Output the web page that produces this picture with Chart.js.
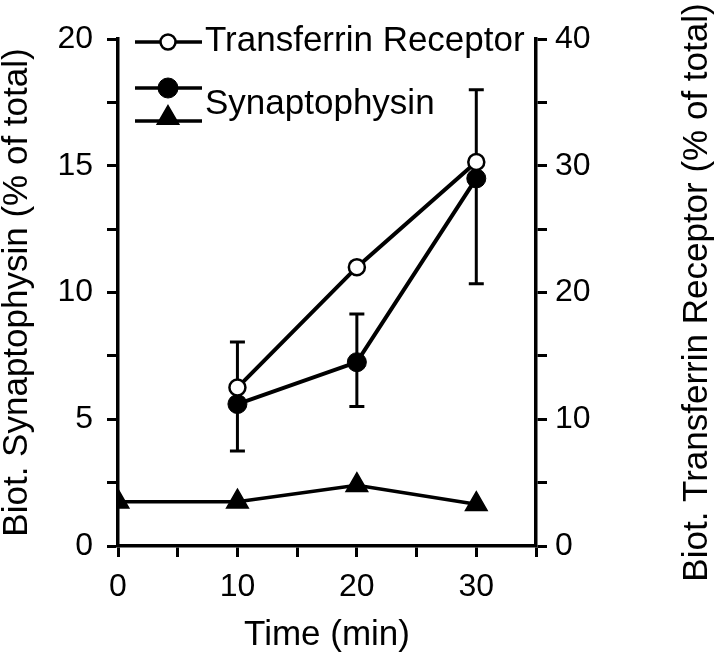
<!DOCTYPE html>
<html>
<head>
<meta charset="utf-8">
<script src="https://cdn.jsdelivr.net/npm/chart.js@4/dist/chart.umd.min.js"></script>
<style>
  html, body { margin: 0; padding: 0; background: #fff; }
  #wrap { width: 720px; height: 660px; }
</style>
</head>
<body>
<div id="wrap"><canvas id="c" width="720" height="660"></canvas></div>
<script>
// ---- data ----
const timeTfR = [10, 20, 30];
const tfrValues = [12.5, 22.0, 30.3];            // right axis, % of total

const timeSyn = [10, 20, 30];
const synValues = [5.6, 7.25, 14.5];             // left axis, % of total
const synErrLow = [3.75, 5.5, 10.35];
const synErrHigh = [8.05, 9.15, 18.0];

const timeTri = [0, 10, 20, 30];
const triValues = [1.75, 1.75, 2.4, 1.65];       // left axis

const xTickLabels = [0, 10, 20, 30];
const leftTickLabels = [0, 5, 10, 15, 20];
const rightTickLabels = [0, 10, 20, 30, 40];

const legendLabels = ['Transferrin Receptor', 'Synaptophysin', ''];
const xTitle = 'Time (min)';
const leftTitle = 'Biot. Synaptophysin (% of total)';
const rightTitle = 'Biot. Transferrin Receptor (% of total)';

// ---- styling ----
const FONT = "'Liberation Sans', Arial, Helvetica, sans-serif";
const BLACK = '#000';

const toXY = (xs, ys) => xs.map((x, i) => ({x: x, y: ys[i]}));

const errorBarPlugin = {
  id: 'errorBars',
  beforeDatasetsDraw(chart) {
    const ctx = chart.ctx;
    const xs = chart.scales.x, ys = chart.scales.y;
    ctx.save();
    ctx.strokeStyle = BLACK;
    ctx.lineWidth = 3;
    const cap = 7.5;
    timeSyn.forEach((t, i) => {
      const px = xs.getPixelForValue(t);
      const yl = ys.getPixelForValue(synErrLow[i]);
      const yh = ys.getPixelForValue(synErrHigh[i]);
      ctx.beginPath();
      ctx.moveTo(px, yl); ctx.lineTo(px, yh);
      ctx.moveTo(px - cap, yl); ctx.lineTo(px + cap, yl);
      ctx.moveTo(px - cap, yh); ctx.lineTo(px + cap, yh);
      ctx.stroke();
    });
    ctx.restore();
  }
};

function drawMarker(ctx, style, x, y, r, fill) {
  ctx.beginPath();
  if (style === 'triangle') {
    let rad = 0;
    ctx.moveTo(x + Math.sin(rad) * r, y - Math.cos(rad) * r);
    rad += 2 * Math.PI / 3;
    ctx.lineTo(x + Math.sin(rad) * r, y - Math.cos(rad) * r);
    rad += 2 * Math.PI / 3;
    ctx.lineTo(x + Math.sin(rad) * r, y - Math.cos(rad) * r);
    ctx.closePath();
  } else {
    ctx.arc(x, y, r, 0, Math.PI * 2);
  }
  ctx.fillStyle = fill;
  ctx.fill();
  ctx.stroke();
}

const legendPlugin = {
  id: 'customLegend',
  afterDraw(chart) {
    const ctx = chart.ctx;
    ctx.save();
    ctx.strokeStyle = BLACK;
    const rows = [
      {ly: 42, ty: 41, style: 'circle', r: 7.5, fill: '#fff', bw: 2.5},
      {ly: 88, ty: 104, style: 'circle', r: 10, fill: BLACK, bw: 1},
      {ly: 121, ty: 121, style: 'triangle', r: 12.5, fill: BLACK, bw: 1.5}
    ];
    rows.forEach((row, i) => {
      ctx.lineWidth = 3.5;
      ctx.beginPath();
      ctx.moveTo(135, row.ly); ctx.lineTo(202, row.ly);
      ctx.stroke();
      ctx.lineWidth = row.bw;
      const my = row.style === 'triangle' ? row.ly - 3 : row.ly;
      drawMarker(ctx, row.style, 168, my, row.r, row.fill);
      if (legendLabels[i]) {
        ctx.fillStyle = BLACK;
        ctx.font = '35px ' + FONT;
        ctx.textAlign = 'left';
        ctx.textBaseline = 'middle';
        ctx.fillText(legendLabels[i], 205, row.ty);
      }
    });
    // right axis title, reading bottom-to-top
    const ca = chart.chartArea;
    ctx.translate(697.5, (ca.top + ca.bottom) / 2);
    ctx.rotate(-Math.PI / 2);
    ctx.fillStyle = BLACK;
    ctx.font = '35px ' + FONT;
    ctx.textAlign = 'center';
    ctx.textBaseline = 'middle';
    ctx.fillText(rightTitle, 0, 0);
    ctx.restore();
  }
};

const gridOpts = {
  display: true,
  drawOnChartArea: false,
  drawTicks: true,
  tickLength: 11,
  tickWidth: 3,
  tickColor: BLACK
};
const borderOpts = {display: true, width: 3.5, color: BLACK};

new Chart(document.getElementById('c'), {
  type: 'line',
  data: {
    datasets: [
      {
        label: legendLabels[0],
        data: toXY(timeTfR, tfrValues),
        yAxisID: 'y2',
        borderColor: BLACK,
        borderWidth: 4,
        pointStyle: 'circle',
        pointRadius: 8,
        pointBorderWidth: 2.5,
        pointBackgroundColor: '#fff',
        pointBorderColor: BLACK,
        tension: 0,
        order: 1
      },
      {
        label: legendLabels[1],
        data: toXY(timeSyn, synValues),
        yAxisID: 'y',
        borderColor: BLACK,
        borderWidth: 4,
        pointStyle: 'circle',
        pointRadius: 9.5,
        pointBorderWidth: 1,
        pointBackgroundColor: BLACK,
        pointBorderColor: BLACK,
        tension: 0,
        order: 2
      },
      {
        label: legendLabels[2],
        data: toXY(timeTri, triValues),
        yAxisID: 'y',
        borderColor: BLACK,
        borderWidth: 3.5,
        pointStyle: 'triangle',
        pointRadius: 12.5,
        pointBorderWidth: 1.5,
        pointBackgroundColor: BLACK,
        pointBorderColor: BLACK,
        tension: 0,
        order: 3
      }
    ]
  },
  options: {
    responsive: false,
    animation: false,
    devicePixelRatio: 1,
    layout: {padding: {top: 39, left: 0, right: 0, bottom: 0}},
    plugins: {legend: {display: false}, tooltip: {enabled: false}},
    scales: {
      x: {
        type: 'linear',
        min: 0, max: 35,
        afterFit(s) { s.height = 114; },
        ticks: {
          stepSize: 5,
          autoSkip: false,
          maxRotation: 0,
          padding: 11,
          color: BLACK,
          font: {family: FONT, size: 32},
          callback: v => xTickLabels.includes(v) ? String(v) : ''
        },
        grid: gridOpts,
        border: borderOpts,
        title: {
          display: true, text: xTitle, color: BLACK,
          font: {family: FONT, size: 35, lineHeight: 1},
          padding: {top: 0, bottom: 7}
        }
      },
      y: {
        position: 'left',
        min: 0, max: 20,
        afterFit(s) { s.width = 118; },
        ticks: {
          stepSize: 2.5,
          autoSkip: false,
          padding: 14,
          color: BLACK,
          font: {family: FONT, size: 32},
          callback: v => leftTickLabels.includes(v) ? String(v) : ''
        },
        grid: gridOpts,
        border: borderOpts,
        title: {
          display: true, text: leftTitle, color: BLACK,
          font: {family: FONT, size: 35, lineHeight: 1},
          padding: {top: 0, bottom: 0}
        }
      },
      y2: {
        position: 'right',
        min: 0, max: 40,
        afterFit(s) { s.width = 184; },
        ticks: {
          stepSize: 5,
          autoSkip: false,
          padding: 8,
          color: BLACK,
          font: {family: FONT, size: 32},
          callback: v => rightTickLabels.includes(v) ? String(v) : ''
        },
        grid: gridOpts,
        border: borderOpts
      }
    }
  },
  plugins: [errorBarPlugin, legendPlugin]
});
</script>
</body>
</html>
